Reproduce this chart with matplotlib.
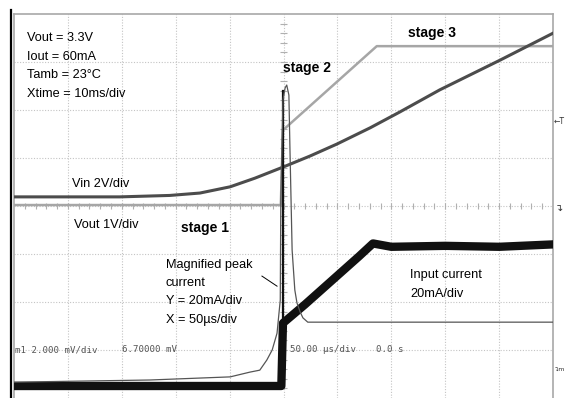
import numpy as np
import matplotlib
matplotlib.use('Agg')
import matplotlib.pyplot as plt
from matplotlib.lines import Line2D

# scope screen: 10 x 8 divisions, values read in divisions
vin_x = [0, 1.96, 2.89, 3.45, 4.01, 4.47, 4.99, 5.49, 5.99, 6.61, 7.16, 7.90, 9.02, 10.0]
vin_y = [4.19, 4.19, 4.22, 4.27, 4.40, 4.58, 4.81, 5.04, 5.29, 5.63, 5.96, 6.42, 7.04, 7.60]

vout_x = [0, 4.95, 4.99, 6.73, 10.0]
vout_y = [4.02, 4.02, 5.58, 7.33, 7.33]

iin_x = [0, 4.96, 4.99, 5.4, 5.9, 6.4, 6.66, 7.0, 8.0, 9.0, 10.0]
iin_y = [0.25, 0.25, 1.56, 1.95, 2.45, 2.95, 3.22, 3.15, 3.17, 3.15, 3.2]
spike_x = [4.99, 4.99]
spike_y = [0.25, 6.40]

peak_x = [0, 2.52, 4.01, 4.38, 4.56, 4.69, 4.79, 4.88, 4.94, 4.95, 4.99,
          5.03, 5.06, 5.10, 5.12, 5.16, 5.21, 5.25, 5.31, 5.36, 5.45, 10.0]
peak_y = [0.33, 0.375, 0.44, 0.54, 0.58, 0.79, 1.0, 1.35, 2.04, 4.12, 6.21,
          6.46, 6.52, 6.31, 5.17, 3.08, 2.25, 1.98, 1.79, 1.67, 1.58, 1.58]

info = ['Vout = 3.3V', 'Iout = 60mA', 'Tamb = 23°C', 'Xtime = 10ms/div']
mag = ['Magnified peak', 'current', 'Y = 20mA/div', 'X = 50µs/div']

W, H = 566, 398
fig = plt.figure(figsize=(W / 100, H / 100), dpi=100)
ax = fig.add_axes([14 / W, 0, 539 / W, 384 / H])
ax.set_xlim(0, 10)
ax.set_ylim(0, 8)
ax.set_xticks([])
ax.set_yticks([])
for s in ['left', 'top', 'right']:
    ax.spines[s].set_color('#a8a8a8')
    ax.spines[s].set_linewidth(1.2)
ax.spines['bottom'].set_visible(False)

# graticule
for i in range(1, 10):
    ax.axvline(i, color='#c4c4c4', lw=0.8, ls=(0, (1, 1.5)), zorder=1)
for j in range(1, 8):
    ax.axhline(j, color='#c4c4c4', lw=0.8, ls=(0, (1, 1.5)), zorder=1)
t = np.arange(0.2, 10, 0.2)
ax.vlines(t, 4 - 0.06, 4 + 0.06, color='#b0b0b0', lw=0.8, zorder=1)
t = np.arange(0.2, 8, 0.2)
ax.hlines(t, 5 - 0.07, 5 + 0.07, color='#b0b0b0', lw=0.8, zorder=1)

# traces
ax.plot(vout_x, vout_y, color='#a6a6a6', lw=1.8, zorder=3)
ax.plot(vin_x, vin_y, color='#4c4c4c', lw=2.2, zorder=4)
ax.plot(iin_x, iin_y, color='#111111', lw=6, zorder=5)
ax.plot(spike_x, spike_y, color='#111111', lw=1.6, zorder=5)
ax.plot(peak_x, peak_y, color='#555555', lw=0.9, zorder=6)
ax.plot([4.60, 4.88], [2.54, 2.33], color='black', lw=0.7, zorder=6)

fam = ['Liberation Sans', 'DejaVu Sans']
for k, s in enumerate(info):
    ax.text(0.24, 7.44 - k * 0.39, s, fontsize=9.2, family=fam, va='baseline')
ax.text(1.08, 4.40, 'Vin 2V/div', fontsize=9.2, family=fam, va='baseline')
ax.text(1.11, 3.54, 'Vout 1V/div', fontsize=9.2, family=fam, va='baseline')
ax.text(3.10, 3.46, 'stage 1', fontsize=10, family=fam, weight='bold', va='baseline')
ax.text(4.99, 6.80, 'stage 2', fontsize=10, family=fam, weight='bold', va='baseline')
ax.text(7.31, 7.52, 'stage 3', fontsize=10, family=fam, weight='bold', va='baseline')
for k, s in enumerate(mag):
    ax.text(2.82, 2.71 - k * 0.38, s, fontsize=9.2, family=fam, va='baseline')
ax.text(7.35, 2.50, 'Input current', fontsize=9.2, family=fam, va='baseline')
ax.text(7.35, 2.11, '20mA/div', fontsize=9.2, family=fam, va='baseline')

mono = dict(fontsize=6.6, family='DejaVu Sans Mono', color='#555555', va='center')
ax.text(0.02, 1.0, 'm1 2.000 mV/div', **mono)
ax.text(2.0, 1.0, '6.70000 mV', **mono)
ax.text(5.12, 1.0, '50.00 µs/div', **mono)
ax.text(6.72, 1.0, '0.0 s', **mono)

ax.text(10.02, 5.75, '←T', fontsize=5.5, color='#333333', va='center', clip_on=False)
ax.text(10.03, 3.95, '↴', fontsize=7, color='#333333', va='center', clip_on=False)
ax.text(10.015, 0.6, '↴m', fontsize=4.5, color='#333333', va='center', clip_on=False)

# black frame edge on the left of the screenshot
fig.add_artist(Line2D([10.5 / W, 10.5 / W], [0, 1 - 10 / H], color='black', lw=1.6))

fig.savefig('out.png', dpi=100)
